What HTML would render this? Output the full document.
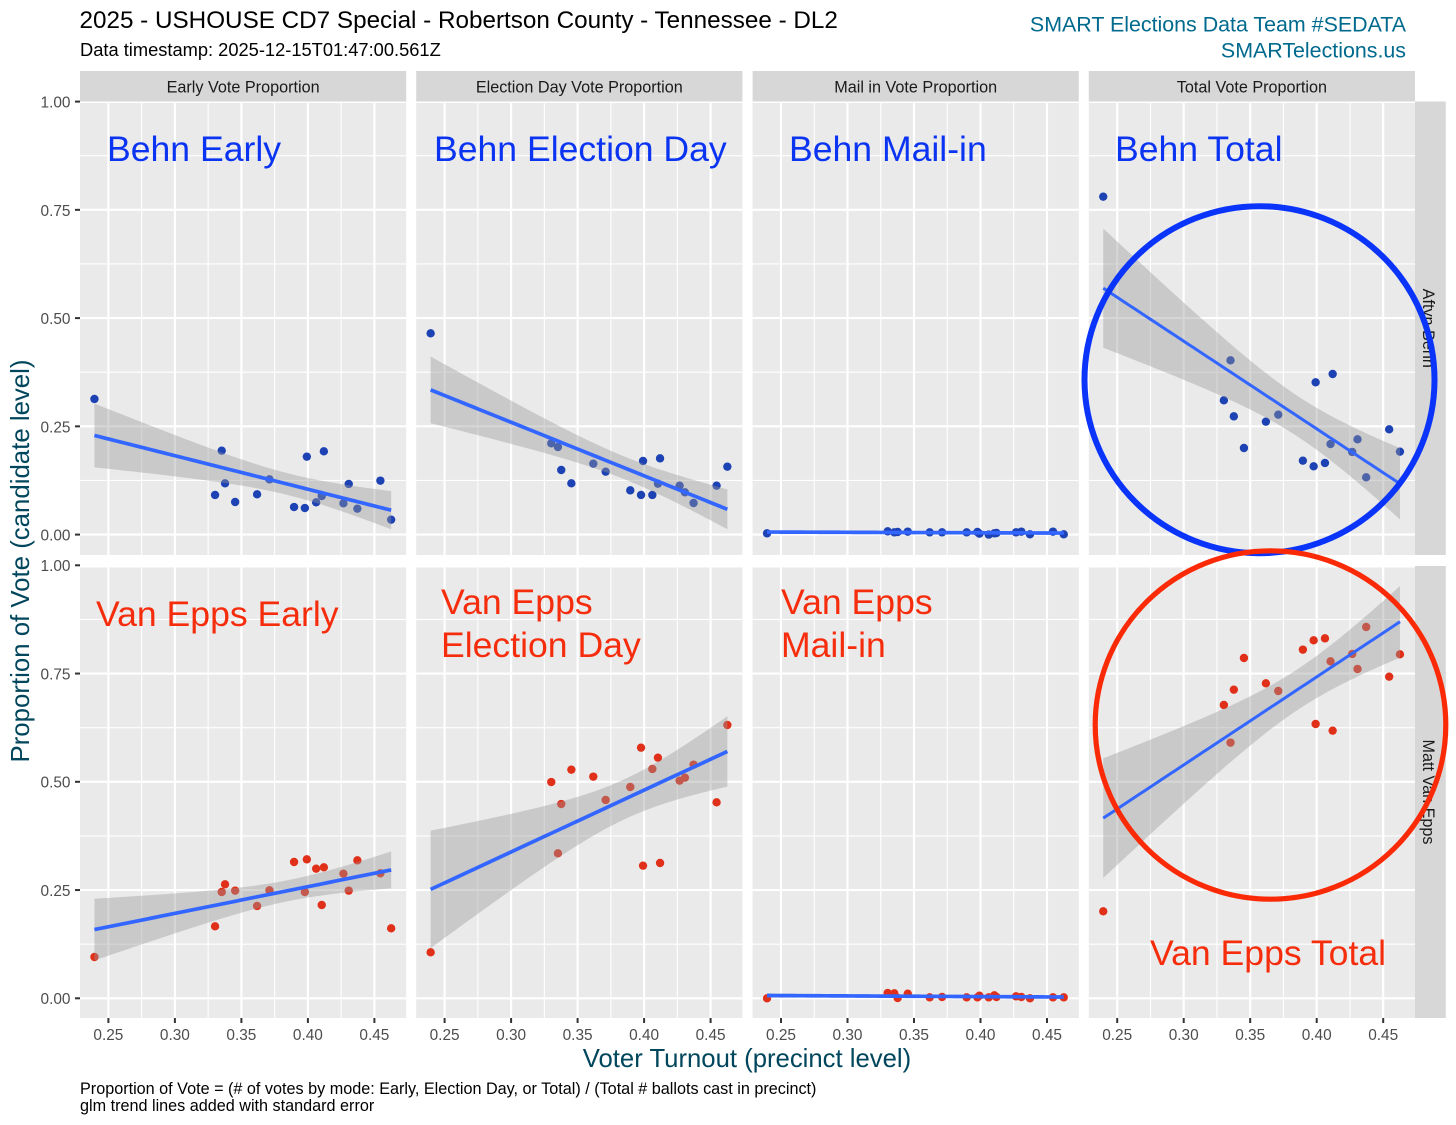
<!DOCTYPE html>
<html lang="en">
<head>
<meta charset="utf-8">
<title>2025 USHOUSE CD7 Special - Robertson County</title>
<style>
html,body{margin:0;padding:0;background:#fff;}
svg{display:block;font-family:"Liberation Sans",Arial,sans-serif;}
</style>
</head>
<body>
<svg id="chart" xmlns="http://www.w3.org/2000/svg" width="1456" height="1125" viewBox="0 0 1456 1125">
  <rect width="1456" height="1125" fill="#ffffff"/>
  <g id="panels"></g>
  <text x="79.5" y="28" font-size="24.25" fill="#000">2025 - USHOUSE CD7 Special - Robertson County - Tennessee - DL2</text>
  <text x="80" y="56" font-size="18.3" fill="#000">Data timestamp: 2025-12-15T01:47:00.561Z</text>
  <text x="1406" y="31.5" font-size="21.4" fill="#006a8e" text-anchor="end">SMART Elections Data Team #SEDATA</text>
  <text x="1406" y="57.5" font-size="21.4" fill="#006a8e" text-anchor="end">SMARTelections.us</text>
  <text transform="translate(29,561) rotate(-90)" font-size="25.8" fill="#00465c" text-anchor="middle">Proportion of Vote (candidate level)</text>
  <text x="747" y="1067" font-size="25.7" fill="#00465c" text-anchor="middle">Voter Turnout (precinct level)</text>
  <text x="80" y="1094" font-size="16.2" fill="#000">Proportion of Vote = (# of votes by mode: Early, Election Day, or Total) / (Total # ballots cast in precinct)</text>
  <text x="80" y="1111" font-size="16.2" fill="#000">glm trend lines added with standard error</text>

  <g id="annotations" font-size="35.6">
    <text x="107" y="161" fill="#0b34f2">Behn Early</text>
    <text x="434" y="161" fill="#0b34f2">Behn Election Day</text>
    <text x="789" y="161" fill="#0b34f2">Behn Mail-in</text>
    <text x="1115" y="161" fill="#0b34f2">Behn Total</text>
    <text x="96" y="626" fill="#f62d0c">Van Epps Early</text>
    <text x="441" y="614" fill="#f62d0c">Van Epps</text>
    <text x="441" y="657" fill="#f62d0c">Election Day</text>
    <text x="781" y="614" fill="#f62d0c">Van Epps</text>
    <text x="781" y="657" fill="#f62d0c">Mail-in</text>
    <text x="1150" y="965" fill="#f62d0c">Van Epps Total</text>
    <ellipse cx="1259.5" cy="379.7" rx="175" ry="173.5" fill="none" stroke="#0a34fa" stroke-width="6"/>
    <ellipse cx="1270.5" cy="725" rx="175.3" ry="174.2" fill="none" stroke="#fb2a06" stroke-width="5.2"/>
  </g>
</svg>
<script>
// Precinct turnout (shared x values)
const turnout = [0.2395,0.3302,0.3352,0.3377,0.3453,0.3618,0.3711,0.3896,0.3977,0.3992,0.4062,0.4104,0.412,0.4267,0.4307,0.4372,0.4545,0.4626];
// Behn vote proportions
const behnEarly = [0.3132,0.0915,0.1938,0.1184,0.0753,0.093,0.1276,0.0637,0.0614,0.18,0.0745,0.0891,0.1923,0.0722,0.1169,0.0599,0.1246,0.0345];
const behnElectionDay = [0.4648,0.2108,0.2023,0.1492,0.1184,0.1638,0.1453,0.1022,0.0915,0.17,0.0915,0.1176,0.1761,0.113,0.0976,0.073,0.113,0.1569];
const behnMail = [0.0029,0.0075,0.0052,0.006,0.0068,0.0052,0.0052,0.0052,0.006,0.0021,0,0.0029,0.0037,0.0052,0.0068,0.0006,0.0068,0.0006];
const behnTotal = [0.7804,0.3101,0.4025,0.2731,0.2,0.2608,0.277,0.1707,0.1577,0.3517,0.1654,0.2092,0.3709,0.1908,0.22,0.1323,0.2431,0.1915];
// Van Epps vote proportions
const vanEppsEarly = [0.0954,0.1662,0.2455,0.2632,0.2486,0.2132,0.2493,0.3148,0.2455,0.3209,0.2994,0.2155,0.3025,0.2878,0.2486,0.3186,0.2886,0.1616];
const vanEppsElectionDay = [0.1062,0.4995,0.3348,0.4487,0.528,0.5119,0.458,0.488,0.5788,0.3063,0.5296,0.5557,0.3125,0.5026,0.5095,0.5396,0.4526,0.6312];
const vanEppsMail = [0,0.0122,0.0115,0.0007,0.0107,0.0022,0.003,0.0022,0.0022,0.0061,0.0022,0.0069,0.003,0.0045,0.003,0,0.0022,0.0022];
const vanEppsTotal = [0.2009,0.6774,0.5904,0.7128,0.7859,0.7274,0.7097,0.8052,0.8267,0.6335,0.8313,0.7782,0.6181,0.7952,0.7605,0.8575,0.7428,0.7944];
// Axis ticks and labels
const xTicks = [0.25,0.30,0.35,0.40,0.45];
const xMinorTicks = [0.275,0.325,0.375,0.425];
const yTicks = [0,0.25,0.5,0.75,1];
const yMinorTicks = [0.125,0.375,0.625,0.875];
const columnTitles = ['Early Vote Proportion','Election Day Vote Proportion','Mail in Vote Proportion','Total Vote Proportion'];
const rowTitles = ['Aftyn Behn','Matt Van Epps'];
const rowSlugs = ['behn','van-epps'];
const columnSlugs = ['early','election-day','mail-in','total'];
const rowSeries = [[behnEarly,behnElectionDay,behnMail,behnTotal],[vanEppsEarly,vanEppsElectionDay,vanEppsMail,vanEppsTotal]];

const NS = 'http://www.w3.org/2000/svg';
const root = document.getElementById('panels');
const colLeft = [80,416.2,752.6,1088.8];
const panelWidth = 326.2;
const rowTop = [101.5,566];
const rowBottom = [555,1018];
const rowZero = [534.6,998.3];
const yScale = 433;
const xScale = 1330;
const pointColor = ['#1c42b4','#e0301a'];
const lineWidth = [3.7,3.7,3.7,3.0];

function make(tag, attrs, parent){
  const el = document.createElementNS(NS, tag);
  for (const k in attrs) el.setAttribute(k, attrs[k]);
  parent.appendChild(el);
  return el;
}
function xPos(col, t){ return colLeft[col] + 28.4 + (t - 0.25) * xScale; }
function yPos(row, v){ return rowZero[row] - v * yScale; }

function fit(xs, ys){
  const n = xs.length;
  const mx = xs.reduce((a,b)=>a+b,0)/n;
  const my = ys.reduce((a,b)=>a+b,0)/n;
  let sxx = 0, sxy = 0;
  xs.forEach((x,i)=>{ sxx += (x-mx)*(x-mx); sxy += (x-mx)*(ys[i]-my); });
  const slope = sxy/sxx;
  const icpt = my - slope*mx;
  let rss = 0;
  xs.forEach((x,i)=>{ const e = ys[i]-(icpt+slope*x); rss += e*e; });
  const s2 = rss/(n-2);
  return {
    predict: x => icpt + slope*x,
    se: x => Math.sqrt(s2*(1/n + (x-mx)*(x-mx)/sxx))
  };
}

function drawPanel(row, col){
  const ys = rowSeries[row][col];
  const left = colLeft[col], right = left + panelWidth;
  const top = rowTop[row], bottom = rowBottom[row];
  const slug = rowSlugs[row] + '-' + columnSlugs[col];

  const g = make('g', {}, root);
  
  

  const bg = make('rect', {x:left, y:top, width:panelWidth, height:bottom-top, fill:'#eaeaea'}, g);
  
  

  yMinorTicks.forEach(v => {
    const l = make('line', {x1:left, x2:right, y1:yPos(row,v), y2:yPos(row,v), stroke:'#fff', 'stroke-width':1.1}, g);
    
    
  });
  xMinorTicks.forEach(t => {
    const l = make('line', {x1:xPos(col,t), x2:xPos(col,t), y1:top, y2:bottom, stroke:'#fff', 'stroke-width':1.1}, g);
    
    
  });
  yTicks.forEach(v => {
    const l = make('line', {x1:left, x2:right, y1:Math.max(yPos(row,v),top+0.5), y2:Math.max(yPos(row,v),top+0.5), stroke:'#fff', 'stroke-width':2.1}, g);
    
    
  });
  xTicks.forEach(t => {
    const l = make('line', {x1:xPos(col,t), x2:xPos(col,t), y1:top, y2:bottom, stroke:'#fff', 'stroke-width':2.1}, g);
    
    
  });

  turnout.forEach((t,i) => {
    const c = make('circle', {cx:xPos(col,t), cy:yPos(row,ys[i]), r:4.2, fill:pointColor[row]}, g);
    
    
  });

  const model = fit(turnout, ys);
  const xmin = Math.min(...turnout), xmax = Math.max(...turnout);
  const upper = [], lower = [], mid = [];
  for (let k = 0; k < 80; k++){
    const t = xmin + (xmax-xmin)*k/79;
    const p = model.predict(t), e = 1.96*model.se(t);
    upper.push(xPos(col,t).toFixed(2)+','+yPos(row,p+e).toFixed(2));
    lower.unshift(xPos(col,t).toFixed(2)+','+yPos(row,p-e).toFixed(2));
    mid.push(xPos(col,t).toFixed(2)+','+yPos(row,p).toFixed(2));
  }
  const band = make('polygon', {points:upper.concat(lower).join(' '), fill:'#999999', 'fill-opacity':0.4}, g);
  
  
  const line = make('polyline', {points:mid.join(' '), fill:'none', stroke:'#3366FF', 'stroke-width':lineWidth[col]}, g);
  
  
}

function drawAxes(){
  columnTitles.forEach((title,col) => {
    const s = make('rect', {x:colLeft[col], y:71, width:panelWidth, height:30.5, fill:'#d7d7d7'}, root);
    
    
    const t = make('text', {x:colLeft[col]+panelWidth/2, y:92.4, 'font-size':16.2, fill:'#1a1a1a', 'text-anchor':'middle'}, root);
    t.textContent = title;
    
    
    xTicks.forEach(v => {
      const m = make('line', {x1:xPos(col,v), x2:xPos(col,v), y1:1018, y2:1023, stroke:'#333', 'stroke-width':2}, root);
      
      
      const l = make('text', {x:xPos(col,v), y:1040, 'font-size':15.4, fill:'#4d4d4d', 'text-anchor':'middle'}, root);
      l.textContent = v.toFixed(2);
      
      
    });
  });
  rowTitles.forEach((title,row) => {
    const top = rowTop[row], bottom = rowBottom[row];
    const s = make('rect', {x:1415, y:top, width:30.8, height:bottom-top, fill:'#d7d7d7'}, root);
    
    
    const t = make('text', {transform:'translate(1423,'+((top+bottom)/2)+') rotate(90)', 'font-size':16.2, fill:'#1a1a1a', 'text-anchor':'middle'}, root);
    t.textContent = title;
    
    
    yTicks.forEach(v => {
      const m = make('line', {x1:75, x2:80, y1:yPos(row,v), y2:yPos(row,v), stroke:'#333', 'stroke-width':2}, root);
      
      
      const l = make('text', {x:70.5, y:yPos(row,v)+5.9, 'font-size':15.4, fill:'#4d4d4d', 'text-anchor':'end'}, root);
      l.textContent = v.toFixed(2);
      
      
    });
  });
}

rowSeries.forEach((cols,row) => cols.forEach((_,col) => drawPanel(row,col)));
drawAxes();
</script>
</body>
</html>
